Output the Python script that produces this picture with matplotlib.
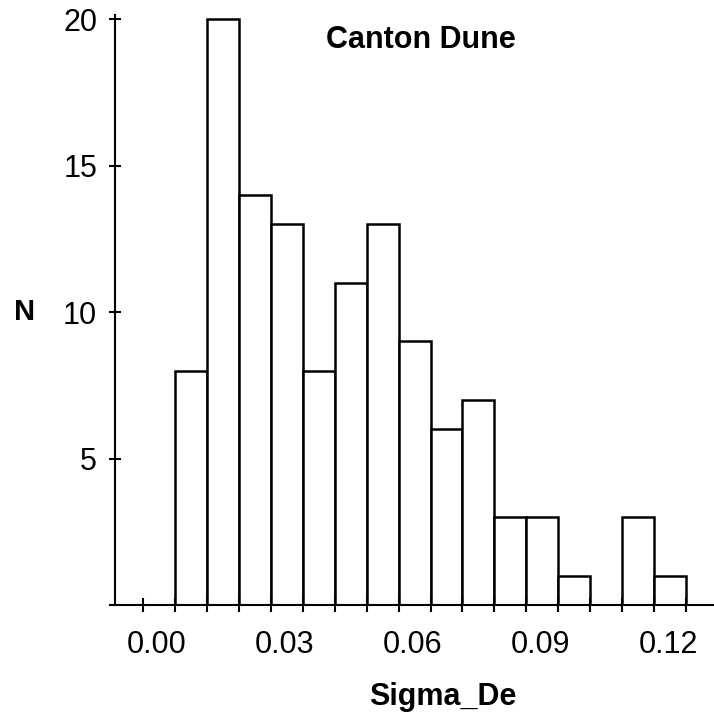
import numpy as np
import matplotlib
matplotlib.use("Agg")
import matplotlib.pyplot as plt

# histogram of Sigma_De, Canton Dune
bin_start = 0.00423
bin_width = 0.0075
counts = [8, 20, 14, 13, 8, 11, 13, 9, 6, 7, 3, 3, 1, 0, 3, 1]
xtick_vals = [0.00, 0.03, 0.06, 0.09, 0.12]
xtick_labels = ["0.00", "0.03", "0.06", "0.09", "0.12"]
ytick_vals = [5, 10, 15, 20]

plt.rcParams['font.family'] = ['Liberation Sans', 'DejaVu Sans']

edges = bin_start + bin_width * np.arange(len(counts) + 1)
lefts = edges[:-1]

fig = plt.figure(figsize=(7.14, 7.19), dpi=100)
ax = fig.add_axes([110/714, 114/719, 604/714, 590/719])

ax.bar(lefts, counts, width=bin_width, align='edge', facecolor='white',
       edgecolor='black', linewidth=1.8)

ax.set_xlim(-0.01104, 0.13081)
ax.set_ylim(0, 20.14)

for s in ['top', 'right']:
    ax.spines[s].set_visible(False)
ax.spines['left'].set_position(('data', -0.00986))
ax.spines['left'].set_linewidth(1.5)
ax.spines['bottom'].set_linewidth(1.5)

ax.set_yticks(ytick_vals)
ax.set_yticklabels([str(v) for v in ytick_vals])
ax.tick_params(axis='y', direction='inout', length=8.6, width=1.5,
               pad=8.6, labelsize=22)

ax.set_xticks(xtick_vals)
ax.set_xticklabels(xtick_labels)
ax.set_xticks(np.append(edges[0] - bin_width, edges), minor=True)
ax.tick_params(axis='x', which='major', length=0, pad=18, labelsize=22)
ax.tick_params(axis='x', which='minor', direction='inout', length=10, width=1.5)

ax.set_xlabel("Sigma_De", fontsize=22, fontweight='bold', va='top')
ax.xaxis.set_label_coords(0.551, -0.1305)
ax.set_ylabel("N", fontsize=21, fontweight='bold', rotation=0,
              ha='center', va='center')
ax.yaxis.set_label_coords(-0.1407, 0.4966)

ax.text(0.515, 0.983, "Canton Dune", transform=ax.transAxes, fontsize=22,
        fontweight='bold', ha='center', va='top')

fig.savefig("out.png", dpi=100)
